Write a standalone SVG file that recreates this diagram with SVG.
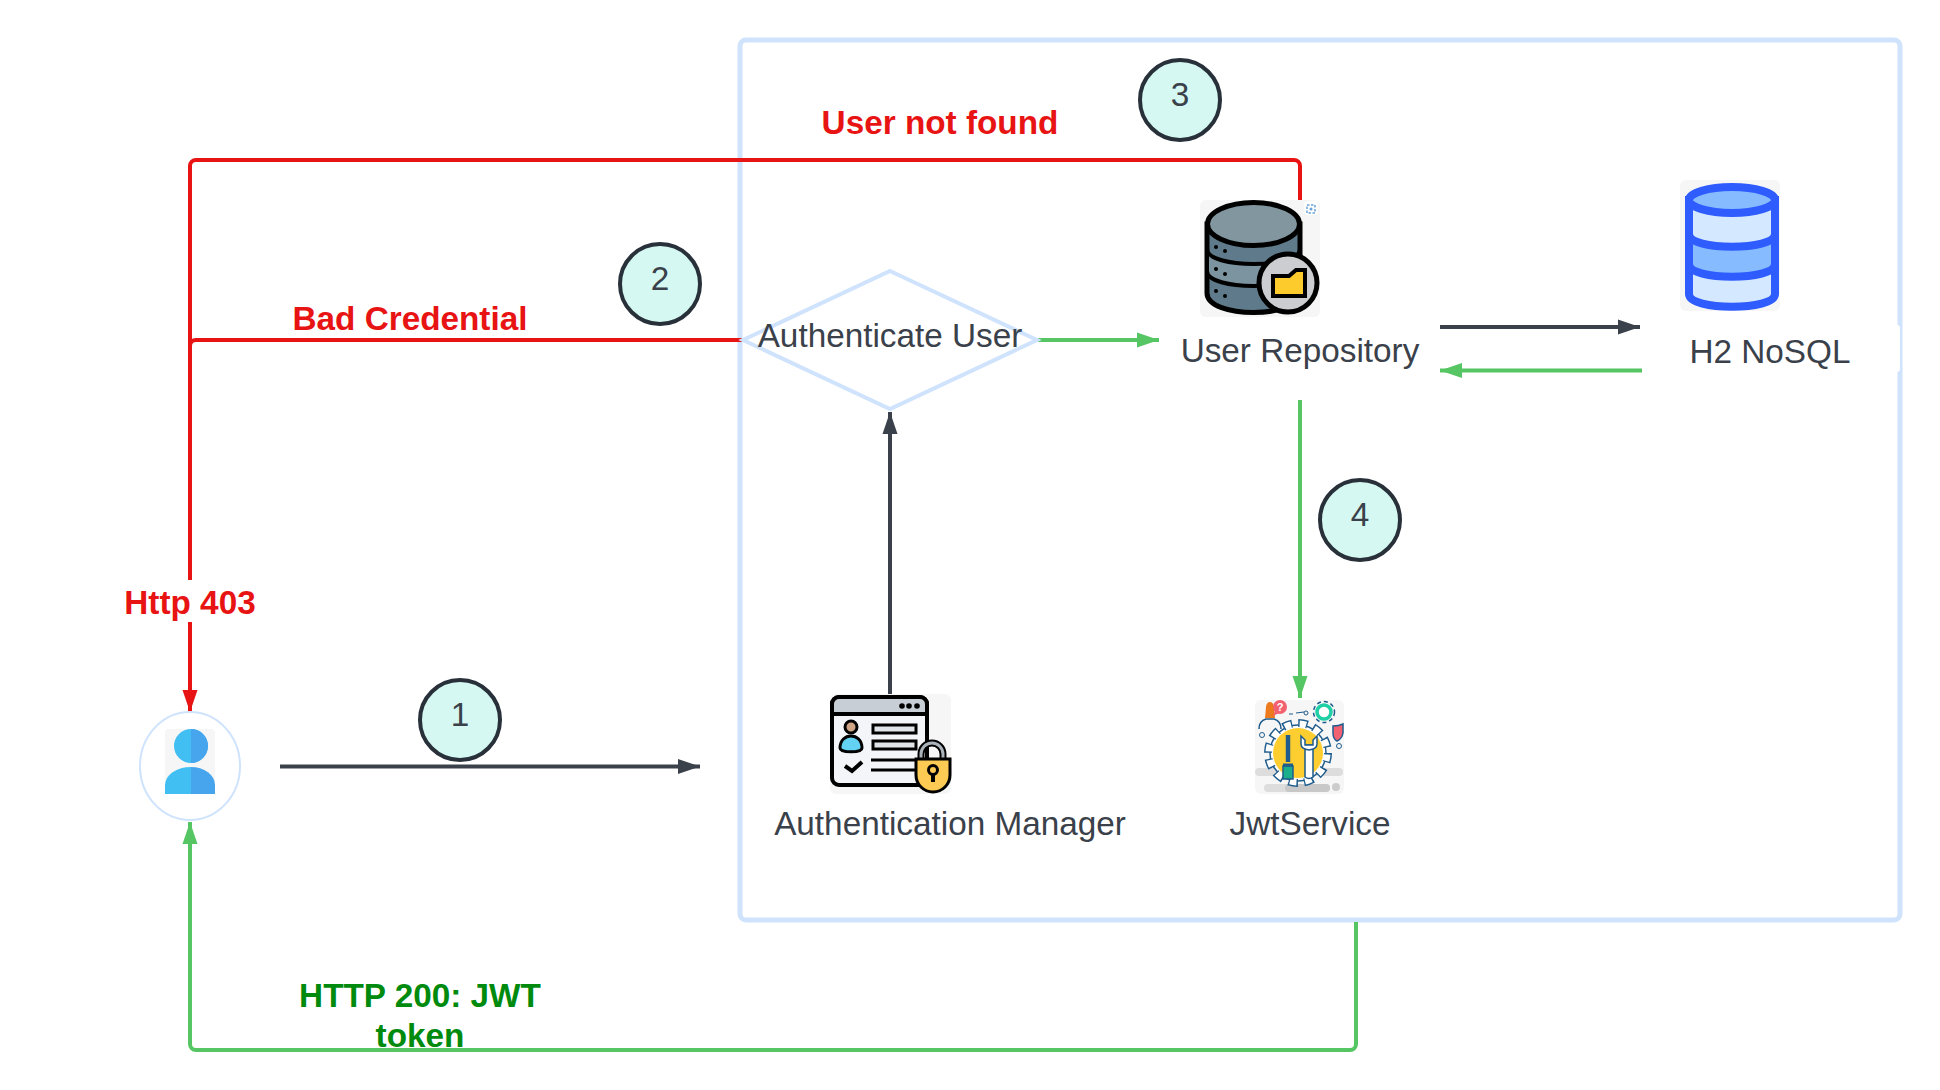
<svg xmlns="http://www.w3.org/2000/svg" width="1940" height="1090" viewBox="0 0 1940 1090">
<style>
text{font-family:"Liberation Sans",Arial,sans-serif;fill:#3a414a;text-anchor:middle}
.lbl{font-size:33.3px}
.num{font-size:33.3px}
.red{fill:#e81313;font-weight:bold;font-size:33.3px}
.grn{fill:#008a0e;font-weight:bold;font-size:33.3px}
.c{fill:none;stroke-width:4;stroke-linejoin:round}
.r{stroke:#e81313}.g{stroke:#55c663}.k{stroke:#3a414a}
.step{fill:#d5f9f2;stroke:#283039;stroke-width:4}
.bg{fill:#f6f6f7}
</style>
<defs>
<marker id="ar" markerUnits="userSpaceOnUse" markerWidth="24" markerHeight="18" refX="22" refY="8" orient="auto"><path d="M0 0.500L22 8L0 15.500Z" fill="#e81313"/></marker>
<marker id="ag" markerUnits="userSpaceOnUse" markerWidth="24" markerHeight="18" refX="22" refY="8" orient="auto"><path d="M0 0.500L22 8L0 15.500Z" fill="#55c663"/></marker>
<marker id="ak" markerUnits="userSpaceOnUse" markerWidth="24" markerHeight="18" refX="22" refY="8" orient="auto"><path d="M0 0.500L22 8L0 15.500Z" fill="#3a414a"/></marker>
</defs>
<rect width="1940" height="1090" fill="#fff"/>
<rect id="frame" x="740" y="40" width="1160" height="880" rx="6" fill="#fff" stroke="#cfe3fd" stroke-width="5"/>
<g id="connectors">
<path class="c r" d="M1300 200V166a6 6 0 0 0-6-6H196a6 6 0 0 0-6 6V712" marker-end="url(#ar)"/>
<path class="c r" d="M742 340H196a6 6 0 0 0-6 6V400"/>
<path class="c k" d="M280 766.500H700" marker-end="url(#ak)"/>
<path class="c k" d="M890 694V412" marker-end="url(#ak)"/>
<path class="c g" d="M1038 340H1159" marker-end="url(#ag)"/>
<path class="c k" d="M1440 327H1640" marker-end="url(#ak)"/>
<path class="c g" d="M1642 370.500H1440" marker-end="url(#ag)"/>
<path class="c g" d="M1300 400V698" marker-end="url(#ag)"/>
<path class="c g" d="M1356 922V1044a6 6 0 0 1-6 6H196a6 6 0 0 1-6-6V822" marker-end="url(#ag)"/>
</g>
<g id="http403"><rect x="120" y="580" width="140" height="42" fill="#fff"/><text class="red" x="190" y="614">Http 403</text></g>
<g id="badcred"><text class="red" x="410" y="330">Bad Credential</text></g>
<g id="notfound"><text class="red" x="940" y="134">User not found</text></g>
<g id="http200"><text class="grn" x="420" y="1007">HTTP 200: JWT</text><text class="grn" x="420" y="1047">token</text></g>
<g id="decision"><path d="M890 271L1037 340L890 409L743 340Z" fill="#fff" stroke="#cfe3fd" stroke-width="4"/><text class="lbl" x="890" y="347">Authenticate User</text></g>
<g id="step1"><circle class="step" cx="460" cy="720" r="40"/><text class="num" x="460" y="726">1</text></g>
<g id="step2"><circle class="step" cx="660" cy="284" r="40"/><text class="num" x="660" y="290">2</text></g>
<g id="step3"><circle class="step" cx="1180" cy="100" r="40"/><text class="num" x="1180" y="106">3</text></g>
<g id="step4"><circle class="step" cx="1360" cy="520" r="40"/><text class="num" x="1360" y="526">4</text></g>
<g id="user">
<ellipse cx="190" cy="766" rx="50" ry="54" fill="#fff" stroke="#cfe3fd" stroke-width="2"/>
<rect class="bg" x="165" y="729" width="50" height="65" rx="4"/>
<circle cx="191" cy="746" r="17" fill="#42bff2"/>
<path d="M191 729a17 17 0 0 1 0 34Z" fill="#46a5ec"/>
<path d="M165 794V785a26 18 0 0 1 26-18V794Z" fill="#42bff2"/>
<path d="M191 767a24 18 0 0 1 24 18V794H191Z" fill="#46a5ec"/>
</g>
<g id="authmanager">
<rect class="bg" x="830" y="694" width="121" height="100" rx="6"/>
<rect x="832" y="697" width="95" height="88" rx="7" fill="#f4f5f8" stroke="#000" stroke-width="4"/>
<path d="M832 714V704a7 7 0 0 1 7-7H920a7 7 0 0 1 7 7V714Z" fill="#c7ced6" stroke="#000" stroke-width="4"/>
<circle cx="902" cy="706" r="2.800"/><circle cx="909" cy="706" r="2.800"/><circle cx="917" cy="706" r="2.800"/>
<circle cx="851" cy="727" r="6" fill="#cfa586" stroke="#000" stroke-width="3"/>
<path d="M840 748c0-16 22-16 22 0c0 5-22 5-22 0Z" fill="#63d2f2" stroke="#000" stroke-width="3"/>
<path d="M845 766l7 5l10-9" fill="none" stroke="#000" stroke-width="4"/>
<rect x="873" y="725" width="43" height="8" fill="#e0e4e8" stroke="#000" stroke-width="3"/>
<rect x="873" y="741" width="43" height="8" fill="#e0e4e8" stroke="#000" stroke-width="3"/>
<path d="M871 760H920M871 770H920" stroke="#000" stroke-width="3"/>
<path d="M921 758V754a11 11 0 0 1 22 0V758" fill="none" stroke="#000" stroke-width="7"/>
<path d="M921 758V754a11 11 0 0 1 22 0V758" fill="none" stroke="#aab3bb" stroke-width="3"/>
<path d="M916 759H950V775a17 17 0 0 1-34 0Z" fill="#fdcb53" stroke="#000" stroke-width="3"/>
<circle cx="933" cy="770" r="4.500" fill="none" stroke="#000" stroke-width="3"/><path d="M933 773V782" stroke="#000" stroke-width="4"/>
<text class="lbl" x="950" y="835">Authentication Manager</text>
</g>
<g id="jwt">
<rect class="bg" x="1255" y="700" width="89" height="94" rx="6"/>
<g fill="#ddd"><rect x="1255" y="768" width="88" height="8" rx="4"/><rect x="1264" y="784" width="66" height="8" rx="4"/></g>
<rect x="1285" y="784" width="45" height="8" rx="4" fill="#c8c8c8"/>
<circle cx="1336" cy="787" r="4" fill="#ccc"/>
<circle cx="1298" cy="753" r="28" fill="#fff" stroke="#1f5c8c" stroke-width="1.500"/>
<circle cx="1298" cy="753" r="30" fill="none" stroke="#1f5c8c" stroke-width="8" stroke-dasharray="9.500 6.210"/>
<circle cx="1298" cy="753" r="29" fill="none" stroke="#fff" stroke-width="7" stroke-dasharray="6.500 8.680" stroke-dashoffset="-1.500"/>
<circle cx="1298" cy="753" r="25" fill="#fece30"/>
<path d="M1288 735V762" stroke="#1f5c8c" stroke-width="4.500"/>
<path d="M1283 766h10v13h-10z" fill="#1bae8c" stroke="#1f5c8c" stroke-width="1.500"/>
<path d="M1283 765h10" stroke="#1f5c8c" stroke-width="3"/>
<path d="M1305 745h8V777q-4 3-8 0Z" fill="#fff" stroke="#1f5c8c" stroke-width="1.500"/>
<path d="M1301 736v8q0 5 8 6q8-1 8-6v-8l-4 4v5h-8v-5Z" fill="#fff" stroke="#1f5c8c" stroke-width="1.500"/>
<path d="M1266 707a4 5 0 0 1 8 0l1 11h-10Z" fill="#ed7a1c"/>
<path d="M1259 729q0-8 7-10h8q7 2 7 10" fill="none" stroke="#1f5c8c" stroke-width="1.500"/>
<circle cx="1280" cy="707" r="7" fill="#f26170"/><path d="M1275 711l-2 5l6-3Z" fill="#f26170"/>
<text x="1280" y="711" style="fill:#fff;font-size:11px;font-weight:bold">?</text>
<circle cx="1324" cy="712" r="7" fill="#fff" stroke="#1fcfa6" stroke-width="3.500"/>
<circle cx="1324" cy="712" r="10.500" fill="none" stroke="#1f5c8c" stroke-width="1.500" stroke-dasharray="4 3"/>
<path d="M1333 726q6 0 10-2v9q-1 6-6 8q-4-2-4-8Z" fill="#f26170" stroke="#1f5c8c" stroke-width="1.500"/>
<circle cx="1306" cy="713" r="2" fill="none" stroke="#1f5c8c"/><circle cx="1262" cy="735" r="2.500" fill="none" stroke="#1f5c8c"/><circle cx="1339" cy="746" r="2.500" fill="none" stroke="#1f5c8c"/>
<path d="M1289 714h4M1296 713l8-1" stroke="#1f5c8c" stroke-width="1.200"/>
<text class="lbl" x="1310" y="835">JwtService</text>
</g>
<g id="repo">
<rect class="bg" x="1200" y="200" width="120" height="117" rx="6"/>
<rect x="1304" y="201" width="14" height="14" rx="4" fill="#fff"/><rect x="1307" y="205" width="8" height="8" fill="none" stroke="#6aa3d8" stroke-width="1.500" stroke-dasharray="2.500 1.500"/><circle cx="1311" cy="209" r="1.500" fill="#6aa3d8"/>
<path d="M1207 224V293c0 26 93 26 93 0V224Z" fill="#5f7a8a" stroke="#000" stroke-width="5"/>
<path d="M1207 249c0 20 93 20 93 0V271c0 20-93 20-93 0Z" fill="#7b949f" stroke="#000" stroke-width="4"/>
<ellipse cx="1253.500" cy="224" rx="46" ry="21.500" fill="#81969f" stroke="#000" stroke-width="5"/>
<circle cx="1216" cy="247" r="2"/><circle cx="1225" cy="251" r="2"/><circle cx="1216" cy="269" r="2"/><circle cx="1225" cy="274" r="2"/><circle cx="1216" cy="291" r="2"/><circle cx="1225" cy="296" r="2"/>
<circle cx="1288" cy="283" r="29" fill="#cbcdd0" stroke="#000" stroke-width="5"/>
<path d="M1273 276H1289L1296 270H1305V296H1273Z" fill="#fecb2d" stroke="#000" stroke-width="4"/>
<rect x="1170" y="326" width="260" height="50" fill="#fff"/>
<text class="lbl" x="1300" y="362">User Repository</text>
</g>
<g id="h2">
<rect x="1662" y="325" width="238" height="47" rx="3" fill="#fff"/>
<rect class="bg" x="1680" y="180" width="100" height="131" rx="6"/>
<path d="M1689 200V294c0 17 86 17 86 0V200Z" fill="#d4e8ff" stroke="#2f5cff" stroke-width="8"/>
<path d="M1689 234c0 17 86 17 86 0V264c0 17-86 17-86 0Z" fill="#86bcff" stroke="#2f5cff" stroke-width="8"/>
<ellipse cx="1732" cy="200" rx="43" ry="13" fill="#86bcff" stroke="#2f5cff" stroke-width="8"/>
<text class="lbl" x="1770" y="363">H2 NoSQL</text>
</g>
</svg>
